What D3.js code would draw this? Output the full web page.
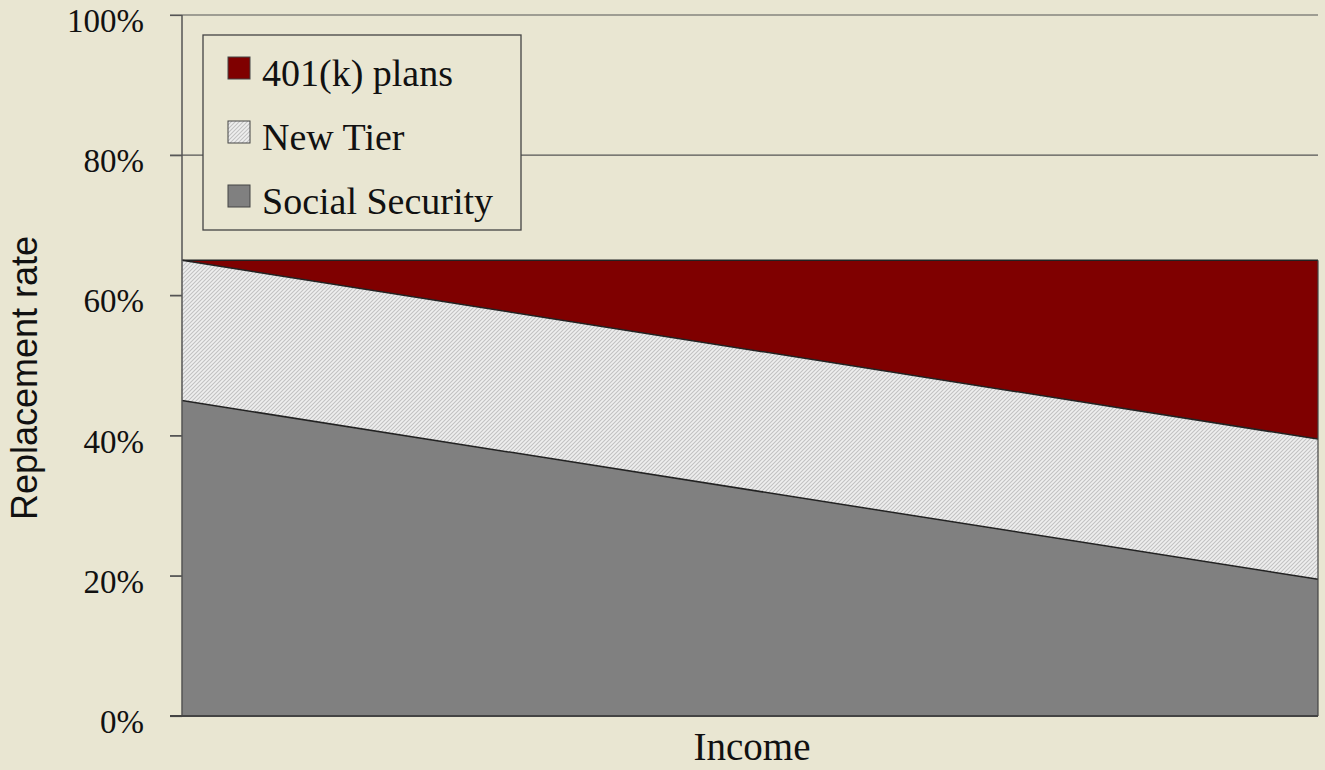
<!DOCTYPE html>
<html>
<head>
<meta charset="utf-8">
<script src="https://cdn.jsdelivr.net/npm/d3@7"></script>
<style>
	html, body { margin: 0; padding: 0; background: #e9e6d2; }
	svg { display: block; }
	.serif { font-family: 'Liberation Serif', 'DejaVu Serif', serif; font-variant-numeric: oldstyle-nums; }
</style>
</head>
<body>
<div id="chart"></div>
<script>
// chart values
const incomePoints = ['low', 'high'];
const socialSecurity = [45, 19.5];
const newTier = [20, 20];
const plans401k = [0, 25.5];
const seriesNames = ['Social Security', 'New Tier', '401(k) plans'];
const yTicks = [0, 20, 40, 60, 80, 100];

(() => {
	const W = 1325;
	const H = 770;
	const margin = { top: 15, right: 7, bottom: 54, left: 182 };
	const width = W - margin.left - margin.right;
	const height = H - margin.top - margin.bottom;

	const rows = incomePoints.map((p, i) => ({
		income: p,
		'Social Security': socialSecurity[i],
		'New Tier': newTier[i],
		'401(k) plans': plans401k[i],
	}));

	const fills = {
		'Social Security': '#808080',
		'New Tier': 'url(#hatch)',
		'401(k) plans': '#7f0000',
	};

	const svg = d3.select('#chart').append('svg')
		.attr('width', W)
		.attr('height', H);

	// hatch pattern for the new tier
	const pat = svg.append('defs').append('pattern')
		.attr('id', 'hatch')
		.attr('patternUnits', 'userSpaceOnUse')
		.attr('width', 4)
		.attr('height', 4);
	pat.append('rect')
		.attr('width', 4)
		.attr('height', 4)
		.attr('fill', '#efefef');
	pat.append('path')
		.attr('d', 'M-1,1 l2,-2 M0,4 l4,-4 M3,5 l2,-2')
		.attr('stroke', '#c2c2c2')
		.attr('stroke-width', 1.1);

	const chart = svg.append('g')
		.attr('transform', `translate(${margin.left}, ${margin.top})`);

	const x = d3.scalePoint()
		.domain(incomePoints)
		.range([0, width]);
	const y = d3.scaleLinear()
		.domain([0, 100])
		.range([height, 0]);

	// gridlines
	chart.append('g')
		.selectAll('line')
		.data(yTicks)
		.enter()
		.append('line')
			.attr('x1', -12)
			.attr('x2', width)
			.attr('y1', d => y(d))
			.attr('y2', d => y(d))
			.style('stroke', '#555')
			.style('stroke-width', 1.2);

	// stacked areas
	const stack = d3.stack().keys(seriesNames);
	const layers = stack(rows);

	const area = d3.area()
		.x(d => x(d.data.income))
		.y0(d => y(d[0]))
		.y1(d => y(d[1]));
	const topLine = d3.line()
		.x(d => x(d.data.income))
		.y(d => y(d[1]));

	chart.append('g')
		.selectAll('path')
		.data(layers)
		.enter()
		.append('path')
			.attr('d', area)
			.style('fill', d => fills[d.key]);

	chart.append('g')
		.selectAll('path')
		.data(layers)
		.enter()
		.append('path')
			.attr('d', topLine)
			.style('fill', 'none')
			.style('stroke', '#222')
			.style('stroke-width', 1.5);

	// right edge of the stack
	chart.append('line')
		.attr('x1', width)
		.attr('x2', width)
		.attr('y1', y(0))
		.attr('y2', y(d3.max(layers, l => d3.max(l, d => d[1]))))
		.style('stroke', '#444')
		.style('stroke-width', 1.2);

	// axes
	const yAxis = d3.axisLeft(y)
		.tickValues(yTicks)
		.tickSize(12)
		.tickPadding(26)
		.tickFormat(d => `${d}%`);
	const yAxisG = chart.append('g')
		.attr('class', 'y axis serif')
		.call(yAxis);
	yAxisG.select('.domain').remove();
	yAxisG.selectAll('.tick line').style('stroke', '#555').style('stroke-width', 1.2);
	yAxisG.selectAll('text')
		.style('font-size', '33px')
		.style('fill', '#111')
		.attr('dy', '0.5em');

	chart.append('line')
		.attr('x1', 0)
		.attr('x2', 0)
		.attr('y1', 0)
		.attr('y2', height)
		.style('stroke', '#555')
		.style('stroke-width', 1.5);
	chart.append('line')
		.attr('x1', -12)
		.attr('x2', width)
		.attr('y1', height)
		.attr('y2', height)
		.style('stroke', '#444')
		.style('stroke-width', 1.8);

	// labels
	chart.append('text')
		.attr('class', 'serif')
		.attr('x', width / 2 + 2)
		.attr('y', height + 44)
		.style('font-size', '39px')
		.style('text-anchor', 'middle')
		.style('fill', '#111')
		.text('Income');
	chart.append('text')
		.attr('transform', 'rotate(-90)')
		.attr('x', -(378 - margin.top))
		.attr('y', -145)
		.style('font-family', "'Liberation Sans', Arial, sans-serif")
		.style('font-size', '36px')
		.style('text-anchor', 'middle')
		.style('fill', '#111')
		.text('Replacement rate');

	// legend
	const legendG = chart.append('g')
		.attr('class', 'serif')
		.attr('transform', `translate(${203 - margin.left}, ${35 - margin.top})`);
	legendG.append('rect')
		.attr('width', 318)
		.attr('height', 195)
		.style('fill', '#e9e6d2')
		.style('stroke', '#444')
		.style('stroke-width', 1.3);
	const legend = legendG.selectAll('g')
		.data(seriesNames.slice().reverse())
		.enter()
		.append('g')
			.attr('transform', (d, i) => `translate(25, ${22 + i * 64})`);
	legend.append('rect')
		.attr('width', 22)
		.attr('height', 22)
		.style('fill', d => fills[d])
		.style('stroke', '#444')
		.style('stroke-width', 1);
	legend.append('text')
		.attr('x', 34)
		.attr('y', 29)
		.style('font-size', '38px')
		.style('fill', '#111')
		.text(d => d);
})();
</script>
</body>
</html>
